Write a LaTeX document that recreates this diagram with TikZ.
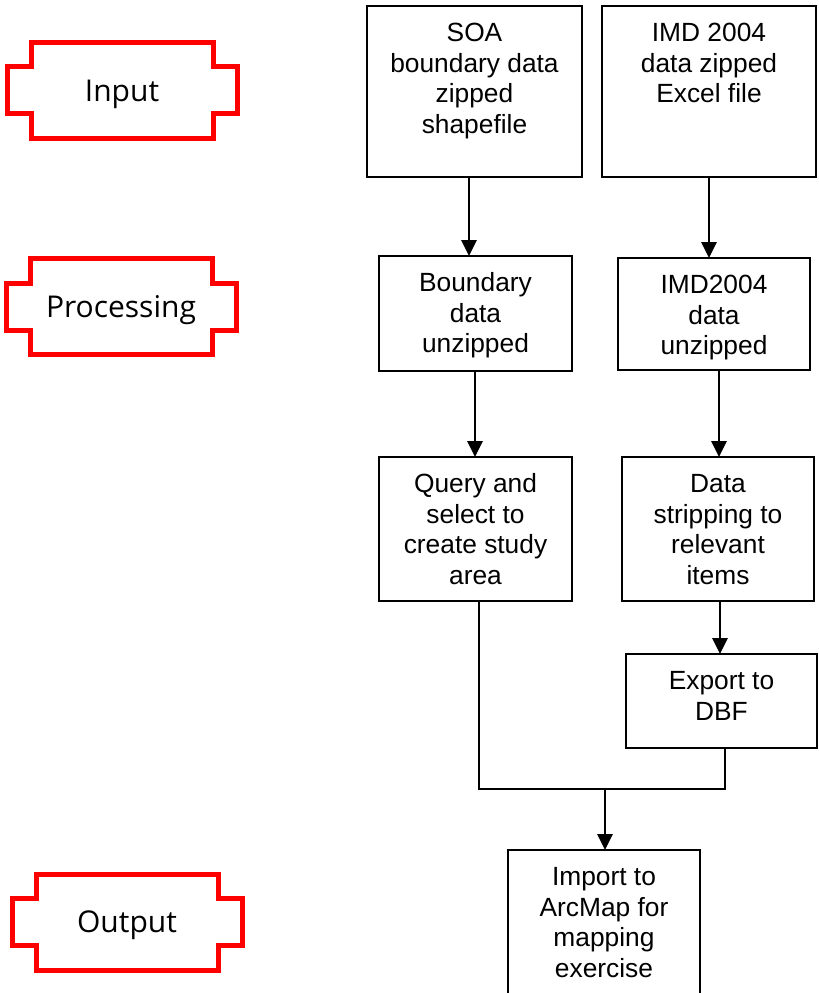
\documentclass[tikz,border=0pt]{standalone}
\usepackage{fontspec}
\setmainfont{Liberation Sans}
\newfontfamily\labfont{Open Sans}
\usetikzlibrary{arrows.meta}
\newcommand\flowbox[5]{\node[fbox] (#1) at (#2) {\parbox[c][#4][t]{#3}{\centering\rule{0pt}{26.5pt}#5}};}
\tikzset{
  fbox/.style={draw=black, line width=1.4pt, inner sep=0pt, outer sep=0pt,
    font=\fontsize{19.75}{23}\selectfont},
  arr/.style={line width=1.3pt, -{Triangle[length=12pt,width=11.5pt]}},
  ln/.style={line width=1.3pt},
  redline/.style={draw=red, line width=3.75pt, miter limit=10},
  lab/.style={font=\labfont\fontsize{22.5}{26}\selectfont, inner sep=0pt, anchor=base},
  redtab/.pic={\draw[redline] (-91,-48) -- (91,-48) -- (91,-23.5) -- (115,-23.5) -- (115,23.5) -- (91,23.5) -- (91,48) -- (-91,48) -- (-91,23.5) -- (-115,23.5) -- (-115,-23.5) -- (-91,-23.5) -- cycle;}
}
\begin{document}
\begin{tikzpicture}[x=0.75pt, y=-0.75pt]
\useasboundingbox (0,0) rectangle (818,993);
\clip (0,0) rectangle (818,993);
% stage labels
\pic at (122.5,90.25) {redtab};
\node[lab] (input) at (122,101) {Input};
\pic at (121,306.5) {redtab};
\node[lab] (processing) at (121,317) {Processing};
\pic at (127,922) {redtab};
\node[lab] (output) at (127,932) {Output};
% boxes
\flowbox{soa}{474.5,91.5}{161.25pt}{128.25pt}{SOA\\boundary data\\zipped\\shapefile}
\flowbox{imd}{709,91.5}{160.5pt}{128.25pt}{IMD 2004\\data zipped\\Excel file}
\flowbox{bnd}{475.5,313.5}{144.75pt}{86.25pt}{Boundary\\data\\unzipped}
\flowbox{imdu}{714,314}{144pt}{84pt}{IMD2004\\data\\unzipped}
\flowbox{qry}{475.5,529}{144.75pt}{108pt}{Query and\\select to\\create study\\area}
\flowbox{dat}{718,529}{144pt}{108pt}{Data\\stripping to\\relevant\\items}
\flowbox{exp}{721.5,701}{143.25pt}{70.5pt}{Export to\\DBF}
\flowbox{imp}{604,930}{144pt}{120pt}{Import to\\ArcMap for\\mapping\\exercise}
% connectors
\draw[arr] (469,0 |- soa.south) -- (469,0 |- bnd.north);
\draw[arr] (709,0 |- imd.south) -- (709,0 |- imdu.north);
\draw[arr] (475,0 |- bnd.south) -- (475,0 |- qry.north);
\draw[arr] (719,0 |- imdu.south) -- (719,0 |- dat.north);
\draw[arr] (720,0 |- dat.south) -- (720,0 |- exp.north);
\coordinate (j) at (605,789);
\coordinate (jr) at (725,789);
\draw[ln] (479,0 |- qry.south) |- (jr) -- (725,0 |- exp.south);
\draw[arr] (j) -- (605,0 |- imp.north);
\end{tikzpicture}
\end{document}
